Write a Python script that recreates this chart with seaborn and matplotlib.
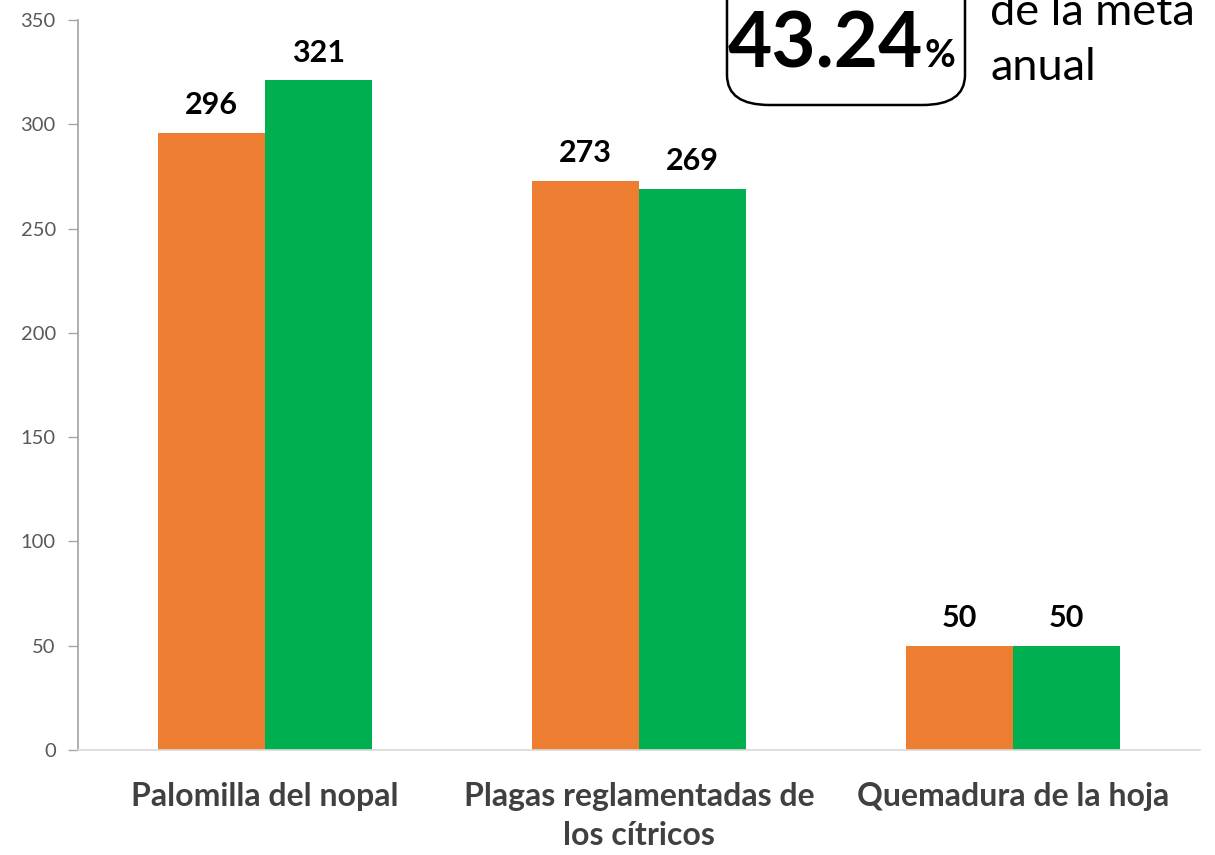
import matplotlib
matplotlib.use("Agg")
import matplotlib.pyplot as plt
import seaborn as sns
import pandas as pd
from matplotlib.patches import FancyBboxPatch

categories = ["Palomilla del nopal", "Plagas reglamentadas de\nlos cítricos", "Quemadura de la hoja"]
series_names = ["Programado", "Realizado"]
serie_a = [296, 273, 50]
serie_b = [321, 269, 50]
yticks = [0, 50, 100, 150, 200, 250, 300, 350]
colors = ["#ED7D31", "#00B050"]

df = pd.DataFrame({
    "cat": categories * 2,
    "serie": [series_names[0]] * 3 + [series_names[1]] * 3,
    "valor": serie_a + serie_b,
})

sns.set_theme(style="white")
plt.rcParams["font.family"] = ["Lato", "DejaVu Sans"]

fig = plt.figure(figsize=(12.15, 8.55), dpi=100)
ax = fig.add_axes([78 / 1215, 1 - 750 / 855, (1200 - 78) / 1215, (750 - 20) / 855])

sns.barplot(data=df, x="cat", y="valor", hue="serie", palette=colors,
            width=0.57, saturation=1, ax=ax, legend=False, linewidth=0, edgecolor="none")

for cont in ax.containers:
    ax.bar_label(cont, labels=[f"{int(v)}" for v in cont.datavalues], padding=10,
                 fontsize=22, fontweight="bold", color="black")

ax.set_ylim(0, 350)
ax.set_yticks(yticks)
ax.set_yticklabels([str(t) for t in yticks], fontsize=14.5, color="#595959")
ax.set_xlim(-0.5, 2.5)
ax.set_xlabel("")
ax.set_ylabel("")
ax.tick_params(axis="y", length=7, color="#A6A6A6", width=1, pad=9, left=True)
ax.tick_params(axis="x", length=0, pad=23)
for lab in ax.get_xticklabels():
    lab.set_fontsize(23)
    lab.set_fontweight("bold")
    lab.set_color("#404040")
    lab.set_linespacing(1.4)
for s in ["top", "right"]:
    ax.spines[s].set_visible(False)
ax.spines["left"].set_color("#A6A6A6")
ax.spines["bottom"].set_color("#D9D9D9")
ax.spines["bottom"].set_linewidth(1.2)

# Rounded box with percentage
box = FancyBboxPatch((727 / 1215, (855 - 105) / 855 + 0.0), (965 - 727) / 1215, 0.2,
                     boxstyle="round,pad=0,rounding_size=0.035", transform=fig.transFigure,
                     facecolor="white", edgecolor="black", linewidth=1.8, clip_on=False)
fig.patches.append(box)
fig.text(728 / 1215, 1 - 67 / 855, "43.24", fontsize=55, fontweight="bold",
         ha="left", va="baseline", color="black")
fig.text(924 / 1215, 1 - 67 / 855, "%", fontsize=27, fontweight="bold",
         ha="left", va="baseline", color="black")
fig.text(990 / 1215, 1 - 25 / 855, "de la meta", fontsize=32.5,
         ha="left", va="baseline", color="black")
fig.text(990 / 1215, 1 - 80 / 855, "anual", fontsize=32.5,
         ha="left", va="baseline", color="black")

fig.savefig("out.png", dpi=100)
